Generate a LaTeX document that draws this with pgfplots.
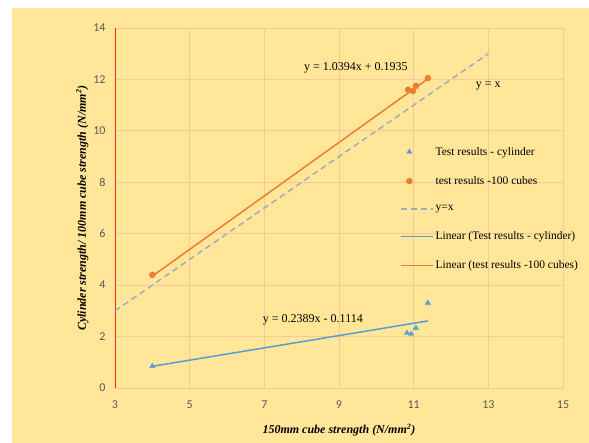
\documentclass[border=0pt]{standalone}
\usepackage{pgfplots}
\pgfplotsset{compat=1.18}
\usepackage{fontspec}
\setmainfont{Liberation Serif}
\newfontfamily\tickfont{Carlito}
\definecolor{bgy}{RGB}{255,230,153}
\definecolor{gridc}{RGB}{248,200,150}
\definecolor{cblue}{RGB}{91,155,213}
\definecolor{corange}{RGB}{237,125,49}
\definecolor{cgray}{RGB}{165,170,185}
\definecolor{tickc}{RGB}{89,89,89}
\begin{document}
\begin{tikzpicture}[x=1pt,y=1pt]
\fill[white] (0,0) rectangle (589,443);
\fill[bgy] (12,0) rectangle (589,435);
\begin{axis}[
  at={(115pt,55pt)}, anchor=south west,
  scale only axis, width=448pt, height=360pt,
  xmin=3, xmax=15, ymin=0, ymax=14,
  xtick={3,5,...,15}, ytick={0,2,...,14},
  grid=major, major grid style={gridc, line width=0.8pt},
  axis line style={gridc, line width=0.8pt},
  tick style={draw=none},
  ticklabel style={font=\tickfont\fontsize{12}{14}\selectfont, text=tickc},
  xticklabel style={yshift=-9pt},
  yticklabel style={xshift=-6pt},
  /pgf/number format/assume math mode=true,
  xlabel={\textbf{\textit{150mm cube strength (N/mm\textsuperscript{2})}}},
  ylabel={\textbf{\textit{Cylinder strength/ 100mm cube strength (N/mm\textsuperscript{2})}}},
  label style={font=\fontsize{12}{14}\selectfont},
  xlabel style={yshift=-9pt},
  ylabel style={yshift=-2pt},
  legend style={at={(axis cs:10.55,9.83)}, anchor=north west, draw=none, fill=none,
    text=black, font=\fontsize{11.5}{13}\selectfont, row sep=0pt,
    nodes={inner ysep=9.8pt}, legend cell align=left},
  clip=false,
]
\draw[red!70!orange, line width=1pt] (axis cs:3,0) -- (axis cs:3,14);
\addplot[forget plot, only marks, mark=triangle*, mark size=3pt, color=cblue] coordinates {
(4,0.85) (10.82,2.14) (10.93,2.10) (11.06,2.33) (11.38,3.31)};
\addplot[forget plot, only marks, mark=*, mark size=3pt, color=corange] coordinates {
(4,4.4) (10.85,11.6) (10.98,11.55) (11.06,11.75) (11.38,12.05)};
\addplot[forget plot, color=cgray, dash pattern=on 6pt off 4pt, line width=1.5pt] coordinates {(3,3) (13,13)};
\addplot[forget plot, color=cblue, line width=1.5pt] coordinates {(4,0.844) (11.38,2.607)};
\addplot[forget plot, color=corange, line width=1.5pt] coordinates {(4,4.351) (11.38,12.022)};
\addlegendimage{only marks, mark=triangle*, mark size=3pt, color=cblue}
\addlegendentry{Test results - cylinder}
\addlegendimage{only marks, mark=*, mark size=3pt, color=corange}
\addlegendentry{test results -100 cubes}
\addlegendimage{legend image code/.code={\draw[draw=cgray, line width=1.5pt, dash pattern=on 6pt off 4pt] (0pt,0pt) -- (32pt,0pt);}}
\addlegendentry{y=x}
\addlegendimage{legend image code/.code={\draw[draw=cblue, line width=1.5pt] (0pt,0pt) -- (32pt,0pt);}}
\addlegendentry{Linear (Test results - cylinder)}
\addlegendimage{legend image code/.code={\draw[draw=corange, line width=1.5pt] (0pt,0pt) -- (32pt,0pt);}}
\addlegendentry{Linear (test results -100 cubes)}
\node[font=\fontsize{12}{14}\selectfont] at (axis cs:9.45,12.45) {y = 1.0394x + 0.1935};
\node[font=\fontsize{12}{14}\selectfont] at (axis cs:13.0,11.75) {y = x};
\node[font=\fontsize{12}{14}\selectfont] at (axis cs:8.3,2.65) {y = 0.2389x - 0.1114};
\end{axis}
\end{tikzpicture}
\end{document}
